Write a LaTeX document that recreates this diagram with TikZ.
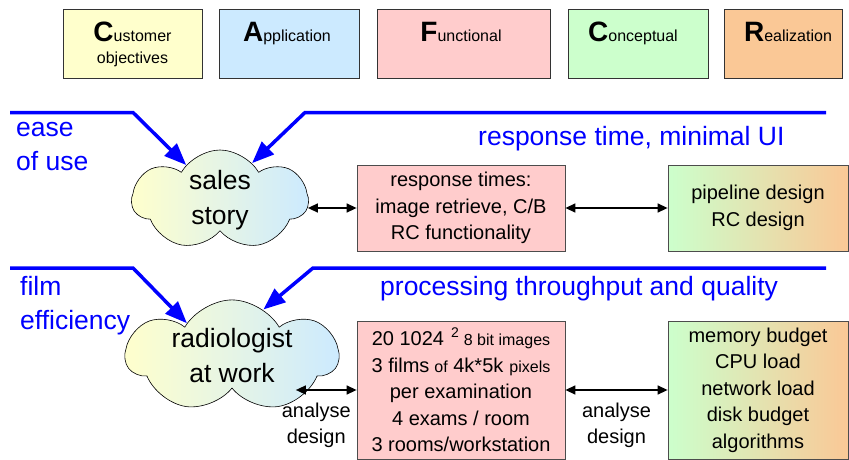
\documentclass[tikz,border=0pt]{standalone}
\usepackage{fontspec}
\setmainfont{Liberation Sans}
\usetikzlibrary{shapes.symbols,arrows.meta,positioning}

\definecolor{custyellow}{RGB}{255,255,204}
\definecolor{applblue}{RGB}{204,234,255}
\definecolor{funcpink}{RGB}{255,204,204}
\definecolor{concgreen}{RGB}{204,255,204}
\definecolor{realorange}{RGB}{250,200,150}
\definecolor{vblue}{RGB}{0,0,255}

\newcommand{\bigini}[1]{{\fontsize{28}{28}\selectfont\bfseries #1}}
\newcommand{\smallpart}[1]{{\fontsize{16}{16}\selectfont #1}}

\tikzset{
  topbox/.style={draw=black!80, line width=0.8pt, minimum height=69pt, inner sep=0pt},
  toplbl/.style={anchor=north, align=center, inner sep=0pt, font=\fontsize{16}{22}\selectfont},
  bluetxt/.style={text=vblue, inner sep=0pt, align=left, font=\fontsize{26.5}{34}\selectfont},
  cloudnode/.style={cloud, cloud puffs=7, cloud puff arc=120, cloud ignores aspect, draw=black, line width=0.6pt,
    left color=custyellow, right color=applblue, align=center, inner sep=0pt, font=\fontsize{26.5}{35}\selectfont},
  funcbox/.style={draw=black!70, line width=0.8pt, fill=funcpink, minimum width=208pt, align=center,
    inner sep=0pt, font=\fontsize{20}{26.5}\selectfont},
  concbox/.style={draw=black!70, line width=0.8pt, left color=concgreen, right color=realorange,
    minimum width=180pt, align=center, inner sep=0pt, font=\fontsize{20}{26.5}\selectfont},
  viewpoint/.style={draw=vblue, line width=3.5pt, -{Triangle[length=22pt,width=17pt]}},
  dblarrow/.style={line width=1.4pt, {Triangle[length=10pt,width=9pt]}-{Triangle[length=10pt,width=9pt]}},
  smalltxt/.style={align=center, inner sep=0pt, font=\fontsize{20}{26}\selectfont}
}

\begin{document}
\begin{tikzpicture}[x=1pt, y=-1pt]
\useasboundingbox (0,0) rectangle (849,460);

% CAFCR headers
\node[topbox, fill=custyellow, minimum width=139pt] (cust) at (132.5,43.5) {};
\node[topbox, fill=applblue, minimum width=140pt] (appl) at (289,43.5) {};
\node[topbox, fill=funcpink, minimum width=173pt] (func) at (463.5,43.5) {};
\node[topbox, fill=concgreen, minimum width=140pt] (conc) at (638,43.5) {};
\node[topbox, fill=realorange, minimum width=118pt] (real) at (783,43.5) {};

\node[toplbl] (custlbl) at (132.5,22) {\bigini{C}ustomer\\objectives};
\node[toplbl] (appllbl) at (287,22) {\bigini{A}pplication};
\node[toplbl] (funclbl) at (461,22) {\bigini{F}unctional};
\node[toplbl] (conclbl) at (633,22) {\bigini{C}onceptual};
\node[toplbl] (reallbl) at (788,22) {\bigini{R}ealization};

% first row: sales story
\node[cloudnode, minimum width=176pt, minimum height=100pt] (sales) at (220,200) {sales\\story};
\node[funcbox, minimum height=86pt] (resp) at (461,208) {response times:\\image retrieve, C/B\\RC functionality};
\node[concbox, minimum height=86pt] (pipe) at (758,208) {pipeline design\\RC design};

\node[bluetxt, anchor=north west] (ease) at (16,122) {ease\\of use};
\node[bluetxt, anchor=base west] (resptime) at (478,145) {response time, minimal UI};

\coordinate (easestart) at (10,112.5);
\coordinate (easebend) at (133,112.5);
\coordinate (respstart) at (826,112.5);
\coordinate (respbend) at (305,112.5);
\draw[viewpoint] (easestart) -- (easebend) -- (sales.134);
\draw[viewpoint] (respstart) -- (respbend) -- (sales.49);

\draw[dblarrow] (sales.-5 |- resp.west) -- (resp.west);
\draw[dblarrow] (resp.east) -- (pipe.west);

% second row: radiologist at work
\node[cloudnode, minimum width=212pt, minimum height=106pt] (radio) at (232,356) {radiologist\\at work};
\node[funcbox, minimum height=138pt] (load) at (461,390) {20 1024\hspace{7pt}\raisebox{8pt}{\fontsize{14}{14}\selectfont 2}\hspace{5pt}\smallpart{8 bit images}\\
  3 films\hspace{5pt}\smallpart{of} 4k*5k\hspace{6pt}\smallpart{pixels}\\
  per examination\\4 exams / room\\3 rooms/workstation};
\node[concbox, minimum height=138pt] (budget) at (758,390) {memory budget\\CPU load\\network load\\disk budget\\algorithms};

\node[bluetxt, anchor=north west] (film) at (20,276) {film\\efficiency};
\node[bluetxt, anchor=base west] (throughput) at (380,295) {processing throughput and quality};

\coordinate (filmstart) at (10,268);
\coordinate (filmbend) at (133,268);
\coordinate (procstart) at (826,268);
\coordinate (procbend) at (313,268);
\draw[viewpoint] (filmstart) -- (filmbend) -- (radio.144);
\draw[viewpoint] (procstart) -- (procbend) -- (radio.56);

\draw[dblarrow] (radio.-35 |- load.west) -- (load.west) node[smalltxt, midway, below=12pt, xshift=-10pt] (analyse1) {analyse\\design};
\draw[dblarrow] (load.east) -- (budget.west) node[smalltxt, midway, below=12pt] (analyse2) {analyse\\design};
\end{tikzpicture}
\end{document}
